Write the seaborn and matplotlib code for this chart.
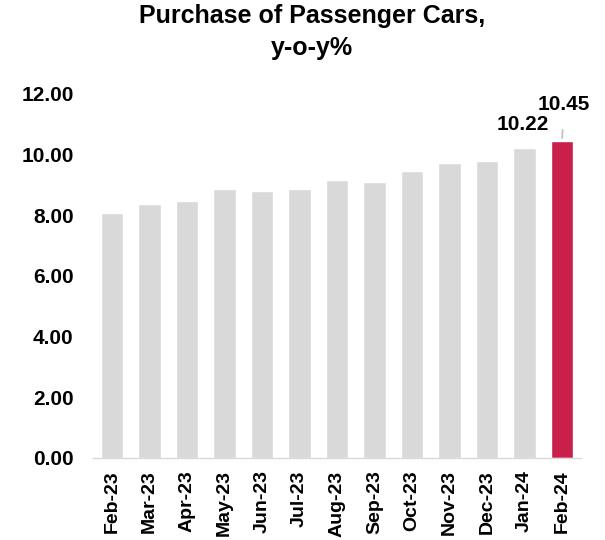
import matplotlib
matplotlib.use("Agg")
import matplotlib.pyplot as plt
import seaborn as sns
import pandas as pd

# Data
months = ["Feb-23", "Mar-23", "Apr-23", "May-23", "Jun-23", "Jul-23", "Aug-23",
          "Sep-23", "Oct-23", "Nov-23", "Dec-23", "Jan-24", "Feb-24"]
values = [8.08, 8.38, 8.48, 8.88, 8.80, 8.88, 9.15, 9.10, 9.47, 9.74, 9.78, 10.22, 10.45]
title = "Purchase of Passenger Cars,\ny-o-y%"

df = pd.DataFrame({"month": months, "value": values})
colors = ["#D9D9D9"] * (len(months) - 1) + ["#C8204A"]

sns.set_style("white")
plt.rcParams["font.family"] = ["Liberation Sans", "DejaVu Sans"]
plt.rcParams["text.color"] = "black"
plt.rcParams["xtick.color"] = "black"
plt.rcParams["ytick.color"] = "black"

fig = plt.figure(figsize=(6.05, 5.4), dpi=100)
ax = fig.add_axes([0.154, 0.152, 0.806, 0.674])

sns.barplot(data=df, x="month", y="value", hue="month", palette=colors,
            legend=False, width=0.6, ax=ax, saturation=1)

ax.set_ylim(0, 12)
ax.set_yticks(range(0, 13, 2))
ax.set_yticklabels([f"{v:.2f}" for v in range(0, 13, 2)], fontsize=15, fontweight="bold")
ax.set_xticks(range(len(months)))
ax.set_xticklabels(months, rotation=90, fontsize=14, fontweight="bold")
ax.set_xlabel("")
ax.set_ylabel("")
ax.tick_params(axis="x", length=0, pad=9)
ax.tick_params(axis="y", length=0, pad=14)

for s in ["top", "right", "left"]:
    ax.spines[s].set_visible(False)
ax.spines["bottom"].set_color("#D9D9D9")
ax.spines["bottom"].set_linewidth(1)

# labels for the last two bars
n = len(months)
ax.annotate(f"{values[-2]:.2f}", xy=(n - 2, values[-2]), xytext=(n - 2.05, values[-2] + 0.78),
            ha="center", va="center", fontsize=15, fontweight="bold")
ax.annotate(f"{values[-1]:.2f}", xy=(n - 1, values[-1]), xytext=(n - 0.95, values[-1] + 1.2),
            ha="center", va="center", fontsize=15, fontweight="bold",
            arrowprops=dict(arrowstyle="-", color="#BFBFBF", lw=1.2, shrinkA=9, shrinkB=2))

fig.suptitle(title, x=0.516, y=0.992, fontsize=18, fontweight="bold", va="top", linespacing=1.38)

fig.savefig("out.png", dpi=100)
